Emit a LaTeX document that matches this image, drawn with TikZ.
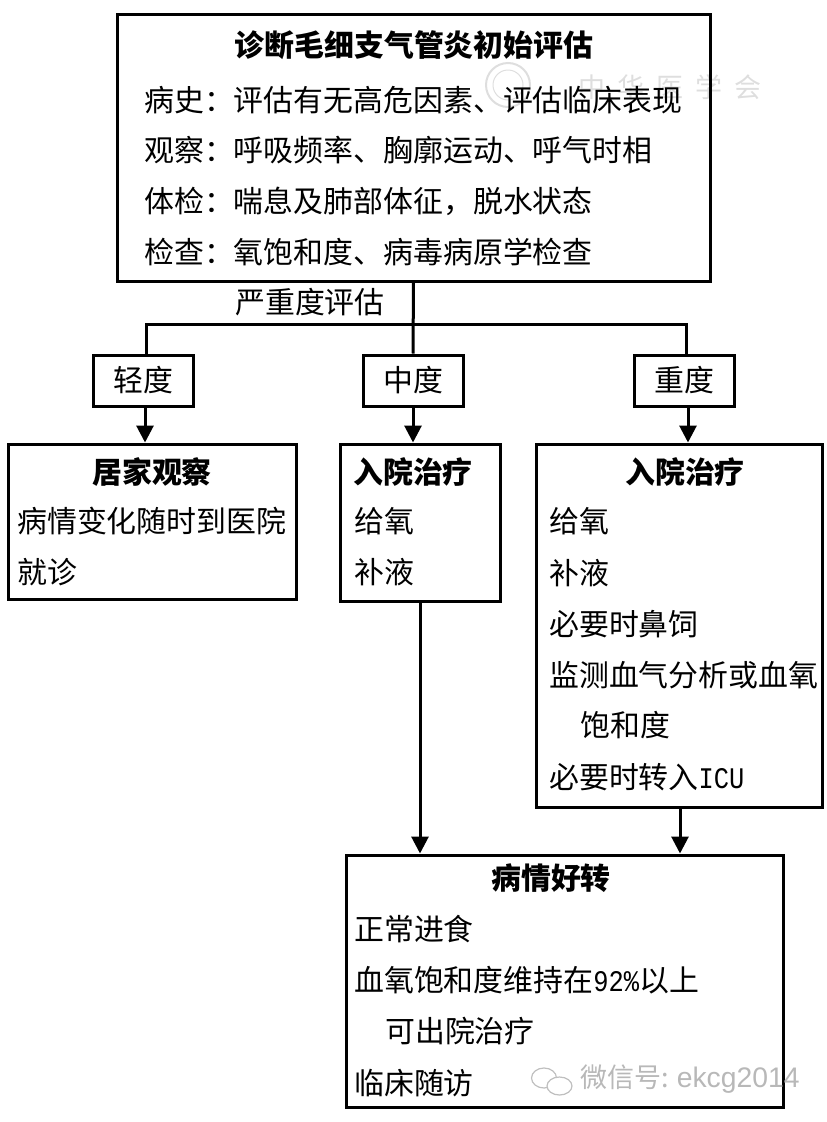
\documentclass[tikz,border=0pt]{standalone}
\usepackage{fontspec}
\setmainfont{Noto Sans CJK SC}
\newfontfamily\latinmono{Liberation Mono}
\newfontfamily\marksans{Liberation Sans}
\newcommand{\halfw}[1]{\scalebox{0.85}[1]{\latinmono #1}}
\usetikzlibrary{arrows.meta}
\tikzset{
  box/.style={draw=black,line width=3pt,inner sep=0pt,fill=none,sharp corners},
  txt/.style={anchor=west,inner sep=0pt,font=\fontsize{29.9}{30}\selectfont},
  head/.style={anchor=center,inner sep=0pt,font=\fontsize{29.9}{30}\selectfont\bfseries},
  plain/.style={anchor=center,inner sep=0pt,font=\fontsize{29.9}{30}\selectfont},
  link/.style={draw=black,line width=3pt},
  flow/.style={draw=black,line width=3pt,-{Triangle[length=17pt,width=17pt]}},
  wmark/.style={anchor=west,inner sep=0pt,text=black!28,font=\fontsize{27}{28}\selectfont},
  seal/.style={inner sep=0pt,text=black!13,font=\fontsize{27}{28}\selectfont}
}
\begin{document}
\begin{tikzpicture}[x=1pt,y=1pt]
\useasboundingbox (0,0) rectangle (827,-1122);
% faint seal behind the text
\draw [black!13,line width=2pt] (508,-85) circle (22);
\draw [black!13,line width=1pt] (508,-85) circle (15);
\node [seal] (sealt) at (670,-87) {中\hspace{12pt}华\hspace{12pt}医\hspace{12pt}学\hspace{12pt}会};
% boxes
\node [box,minimum width=593pt,minimum height=267pt] (assess) at (413.5,-147.5) {};
\node [box,minimum width=100pt,minimum height=51pt] (mild) at (143,-380.5) {};
\node [box,minimum width=100pt,minimum height=51pt] (moderate) at (413,-380.5) {};
\node [box,minimum width=100pt,minimum height=51pt] (severe) at (684,-380.5) {};
\node [box,minimum width=288pt,minimum height=155pt] (home) at (152,-521.5) {};
\node [box,minimum width=160pt,minimum height=157pt] (wardmid) at (420,-522.5) {};
\node [box,minimum width=286pt,minimum height=363pt] (wardsev) at (679,-625.5) {};
\node [box,minimum width=437pt,minimum height=252pt] (better) at (564.5,-981) {};
% first box
\node [head] (t0) at (414,-45) {诊断毛细支气管炎初始评估};
\node [txt] (t1) at (144,-100) {病史：评估有无高危因素、评估临床表现};
\node [txt] (t2) at (144,-150) {观察：呼吸频率、胸廓运动、呼气时相};
\node [txt] (t3) at (144,-201) {体检：喘息及肺部体征，脱水状态};
\node [txt] (t4) at (144,-252) {检查：氧饱和度、病毒病原学检查};
% severity
\node [plain] (grade) at (310,-302) {严重度评估};
\node [plain] (mildt) at (mild) {轻度};
\node [plain] (modt) at (moderate) {中度};
\node [plain] (sevt) at (severe) {重度};
% home care
\node [head] (h0) at (152,-472) {居家观察};
\node [txt] (h1) at (17,-521) {病情变化随时到医院};
\node [txt] (h2) at (17,-572) {就诊};
% ward, moderate
\node [head] (m0) at (413,-472) {入院治疗};
\node [txt] (m1) at (354,-521) {给氧};
\node [txt] (m2) at (354,-572) {补液};
% ward, severe
\node [head] (s0) at (685,-472) {入院治疗};
\node [txt] (s1) at (549,-521) {给氧};
\node [txt] (s2) at (549,-573) {补液};
\node [txt] (s3) at (549,-624) {必要时鼻饲};
\node [txt] (s4) at (549,-675) {监测血气分析或血氧};
\node [txt] (s5) at (580,-725) {饱和度};
\node [txt] (s6) at (549,-777) {必要时转入\halfw{ICU}};
% improved
\node [head] (b0) at (551,-878) {病情好转};
\node [txt] (b1) at (354,-929) {正常进食};
\node [txt] (b2) at (354,-980) {血氧饱和度维持在\halfw{92\%}以上};
\node [txt] (b3) at (385,-1031) {可出院治疗};
\node [txt] (b4) at (354,-1083) {临床随访};
% connectors
\coordinate (fork) at (413.5,-324);
\coordinate (forkl) at (146,-324);
\coordinate (forkr) at (686,-324);
\draw [link] (assess.south) -- (moderate.north);
\draw [link,line cap=rect] (forkl) -- (forkr);
\draw [link] (forkl) -- (forkl |- mild.north);
\draw [link] (forkr) -- (forkr |- severe.north);
\draw [flow] ([xshift=2pt]mild.south) -- ([xshift=2pt]mild.south |- home.north);
\draw [flow] (moderate.south) -- (moderate.south |- wardmid.north);
\draw [flow] ([xshift=4pt]severe.south) -- ([xshift=4pt]severe.south |- wardsev.north);
\draw [flow] (wardmid.south) -- (wardmid.south |- better.north);
\draw [flow] ([xshift=1pt]wardsev.south) -- ([xshift=1pt]wardsev.south |- better.north);
% watermark
\draw [black!25,line width=1.2pt] (544,-1078) ellipse (12.5 and 10);
\draw [black!25,line width=1.2pt,fill=white] (559.5,-1086) ellipse (12.5 and 9);
\node [wmark] (wm) at (580,-1079) {微信号: {\marksans\fontsize{28.3}{28}\selectfont ekcg2014}};
\end{tikzpicture}
\end{document}
